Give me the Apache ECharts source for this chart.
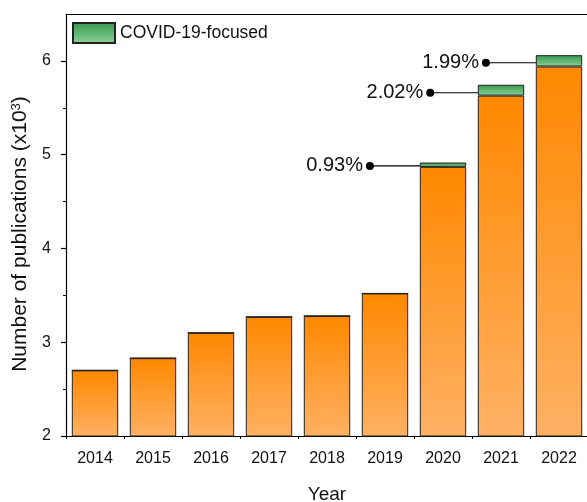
<!DOCTYPE html>
<html>
<head>
<meta charset="utf-8">
<script src="https://cdn.jsdelivr.net/npm/echarts@6/dist/echarts.min.js"></script>
<style>
html,body{margin:0;padding:0;background:#fff;}
#chart{width:587px;height:502px;}
</style>
</head>
<body>
<div id="chart"></div>
<script>
// ---- data ----
var years = ['2014','2015','2016','2017','2018','2019','2020','2021','2022'];
var otherPubs = [2.70, 2.83, 3.10, 3.27, 3.28, 3.52, 4.87, 5.63, 5.94];   // x10^3
var covidPubs = [0, 0, 0, 0, 0, 0, 0.046, 0.116, 0.121];                // x10^3
var yTicks = [2, 3, 4, 5, 6];
var yMinorTicks = [2.5, 3.5, 4.5, 5.5];
var shareLabels = ['0.93%', '2.02%', '1.99%'];
var shareBarIndex = [6, 7, 8];
var shareDotX = [5.24, 6.28, 7.24];      // position on the band axis (0..9)
var shareLevel = [4.88, 5.66, 5.98];     // y level of the leader line

var font = 'Liberation Sans, Arial, sans-serif';

var orangeGrad = new echarts.graphic.LinearGradient(0,0,0,1,[
  {offset:0,color:'#ff8800'},{offset:1,color:'#ffb164'}]);
var greenGrad = new echarts.graphic.LinearGradient(0,0,0,1,[
  {offset:0,color:'#36994b'},{offset:1,color:'#8cd09a'}]);

var annotationSeries = shareLabels.map(function(lbl, i){
  return {
    type:'line',
    xAxisIndex:2, yAxisIndex:0,
    z:1,
    silent:true,
    data:[[shareDotX[i], shareLevel[i]], [shareBarIndex[i] + 0.5, shareLevel[i]]],
    lineStyle:{color:'#000', width:1.2},
    symbol:'circle',
    symbolSize:function(v, p){ return p.dataIndex === 0 ? 8 : 0; },
    itemStyle:{color:'#000'},
    label:{
      show:true,
      position:'left',
      distance:3,
      color:'#111',
      fontFamily:font,
      fontSize:20,
      formatter:function(p){ return p.dataIndex === 0 ? lbl : ''; }
    },
    animation:false
  };
});

var chart = echarts.init(document.getElementById('chart'), null, {renderer:'canvas'});
chart.setOption({
  animation:false,
  backgroundColor:'#fff',
  legend:{
    left:67, top:17,
    data:[{name:'COVID-19-focused', icon:'rect'}],
    itemWidth:42, itemHeight:20,
    itemGap:6,
    textStyle:{fontFamily:font, fontSize:17.5, color:'#111'}
  },
  grid:{left:66, top:14, width:522, height:422, containLabel:false, outerBoundsMode:'none'},
  xAxis:[
    {
      type:'category', data:years, position:'bottom',
      axisLine:{lineStyle:{color:'#000', width:1.2}},
      axisTick:{alignWithLabel:true, length:7, lineStyle:{color:'#000', width:1.2}},
      axisLabel:{fontFamily:font, fontSize:16, color:'#111', margin:15},
      name:'Year', nameLocation:'middle', nameGap:49,
      nameTextStyle:{fontFamily:font, fontSize:19, color:'#111'}
    },
    {
      type:'category', data:years, position:'top',
      axisLine:{lineStyle:{color:'#000', width:1.2}},
      axisTick:{show:false}, axisLabel:{show:false}
    },
    {
      type:'value', min:0, max:9, interval:1, position:'bottom',
      axisLine:{show:false},
      axisTick:{show:true, length:3, lineStyle:{color:'#000', width:1}},
      axisLabel:{show:false}, splitLine:{show:false}
    }
  ],
  yAxis:[
    {
      type:'value', min:2, max:6.5, interval:1,
      axisLine:{show:true, lineStyle:{color:'#000', width:1.2}},
      axisTick:{show:true, length:5, customValues:yTicks, lineStyle:{color:'#000', width:1.2}},
      axisLabel:{customValues:yTicks, fontFamily:font, fontSize:16, color:'#111', margin:15},
      splitLine:{show:false},
      name:'{a|Number of publications (x10}{s|3}{a|)}',
      nameLocation:'middle', nameGap:30, nameRotate:90,
      nameTextStyle:{
        padding:[0,18,0,0],
        rich:{
          a:{fontFamily:font, fontSize:21, color:'#111'},
          s:{fontFamily:font, fontSize:13, color:'#111', verticalAlign:'top', padding:[0,0,9,0]}
        }
      }
    },
    {
      type:'value', min:2, max:6.5, interval:1, position:'left',
      axisLine:{show:false},
      axisTick:{show:true, length:3, customValues:yMinorTicks, lineStyle:{color:'#000', width:1}},
      axisLabel:{show:false}, splitLine:{show:false}
    }
  ],
  series:[
    {
      name:'Other', type:'bar', stack:'pubs', data:otherPubs,
      barWidth:'80%', z:3,
      itemStyle:{color:orangeGrad, borderColor:'#222', borderWidth:1}
    },
    {
      name:'COVID-19-focused', type:'bar', stack:'pubs', data:covidPubs,
      barWidth:'80%', z:3,
      itemStyle:{color:greenGrad, borderColor:'#222', borderWidth:1}
    }
  ].concat(annotationSeries)
});
</script>
</body>
</html>
